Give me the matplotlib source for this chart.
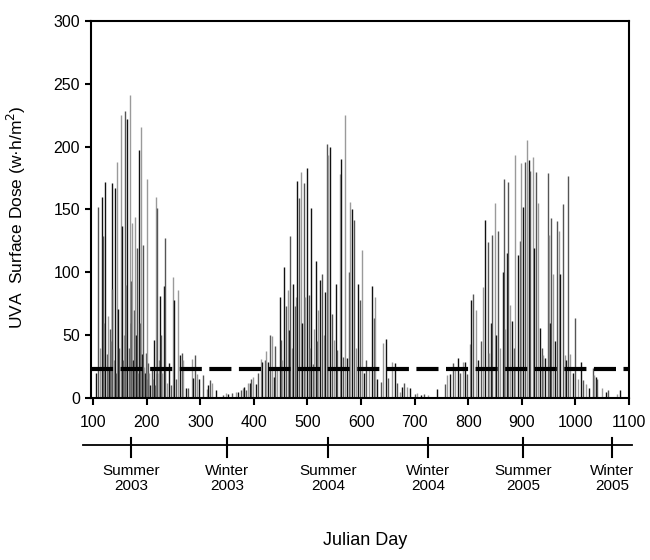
import numpy as np
from matplotlib import pyplot as plt
import matplotlib.transforms as mtransforms

plt.rcParams['font.family'] = ['Liberation Sans', 'DejaVu Sans']

# daily UVA surface dose (julian day, w.h/m2)
days_2003 = [105, 109, 112, 116, 118, 121, 123, 125, 127, 129, 131, 133, 135, 136, 138, 140, 142, 145, 147, 149,
             152, 154, 155, 157, 159, 160, 162, 164, 166, 168, 170, 171, 173, 175, 176, 178, 180, 182, 184, 185,
             187, 189, 191, 193, 195, 197, 199, 200, 202, 203, 205, 207, 209, 211, 213, 215, 217, 219, 220, 222,
             224, 226, 229, 232, 234, 238, 242, 245, 249, 250, 254, 259, 263, 265, 268, 273, 277, 284, 287, 291,
             294, 298, 305, 312, 315, 319, 322, 330, 342, 348, 352]
dose_2003 = [20, 152, 40, 160, 129, 60, 172, 35, 65, 25, 55, 45, 171, 87, 30, 167, 20, 188, 71, 40,
             225, 137, 30, 50, 25, 228, 90, 222, 40, 241, 60, 93, 139, 30, 70, 144, 50, 119, 20, 197,
             60, 216, 35, 122, 25, 20, 36, 174, 15, 28, 20, 10, 25, 15, 46, 10, 160, 20, 151, 30,
             81, 50, 20, 89, 127, 12, 28, 10, 96, 78, 15, 86, 34, 36, 30, 8, 8, 31, 16, 34,
             19, 15, 18, 7, 10, 14, 12, 6, 2, 4, 3]

days_2004 = [360, 367, 370, 376, 379, 382, 385, 389, 392, 395, 399, 403, 408, 413, 416, 420, 422, 426, 430, 433,
             437, 440, 444, 448, 451, 453, 456, 459, 463, 465, 468, 471, 473, 476, 478, 481, 485, 487, 490, 493,
             496, 500, 503, 505, 507, 510, 512, 515, 518, 520, 523, 527, 530, 533, 536, 539, 542, 545, 549, 553,
             556, 560, 563, 567, 570, 573, 577, 580, 583, 586, 590, 594, 598, 601, 606, 610, 615, 620, 624, 626,
             630, 637, 640, 647, 650, 657, 664, 667, 672, 677, 680, 685, 692, 700, 705, 712, 718, 725]
dose_2004 = [4, 5, 5, 6, 8, 9, 6, 12, 12, 15, 17, 11, 20, 31, 29, 30, 37, 29, 50, 49,
             17, 41, 25, 80, 46, 30, 104, 73, 86, 54, 129, 40, 91, 73, 80, 173, 159, 180, 60, 171,
             80, 183, 82, 40, 151, 27, 55, 109, 45, 70, 94, 99, 50, 84, 202, 193, 200, 67, 46, 91,
             38, 178, 190, 33, 225, 32, 100, 156, 150, 142, 40, 91, 78, 118, 20, 30, 25, 89, 64, 80,
             15, 13, 44, 47, 16, 29, 28, 12, 5, 9, 12, 9, 8, 3, 4, 2, 3, 2]

days_2005 = [741, 756, 760, 766, 772, 775, 780, 784, 790, 794, 798, 804, 806, 809, 815, 819, 823, 828, 832, 836,
             839, 842, 845, 849, 852, 856, 860, 864, 866, 869, 872, 874, 878, 882, 885, 888, 892, 897, 899, 902,
             906, 909, 913, 916, 920, 923, 927, 930, 934, 937, 940, 943, 948, 950, 953, 955, 959, 962, 965, 969,
             972, 976, 980, 983, 987, 990, 995, 1000, 1005, 1011, 1015, 1020, 1025, 1032, 1035, 1038, 1041, 1049,
             1057, 1061, 1077, 1083]
dose_2005 = [7, 11, 18, 19, 28, 22, 32, 20, 29, 29, 19, 43, 78, 83, 70, 30, 45, 88, 142, 124,
             36, 60, 130, 155, 50, 133, 40, 100, 174, 55, 115, 172, 74, 61, 40, 193, 114, 125, 187, 152,
             188, 205, 189, 181, 192, 119, 180, 155, 56, 40, 34, 32, 179, 130, 60, 143, 99, 45, 141, 133,
             99, 154, 34, 30, 177, 35, 20, 64, 15, 29, 14, 11, 8, 24, 18, 17, 15, 8,
             5, 6, 3, 6]

threshold = 23

season_days = [171, 350, 538, 725, 902, 1068]
season_labels = ["Summer\n2003", "Winter\n2003", "Summer\n2004", "Winter\n2004", "Summer\n2005", "Winter\n2005"]

days = np.array(days_2003 + days_2004 + days_2005)
dose = np.array(dose_2003 + dose_2004 + dose_2005)

fig = plt.figure(figsize=(6.5, 5.6), dpi=100)
ax = fig.add_axes([0.14, 0.2893, 0.8277, 0.6732])

shades = ['#111111', '#555555', '#9a9a9a']
colors = [shades[i % 3] for i in range(len(days))]
ax.vlines(days, 0, dose, colors=colors, linewidth=1.0)

ax.axhline(threshold, color='black', linewidth=3, dashes=(5.3, 1.8))

ax.set_xlim(96, 1100)
ax.set_ylim(0, 300)
ax.set_xticks(np.arange(100, 1101, 100))
ax.set_yticks(np.arange(0, 301, 50))
ax.tick_params(axis='both', direction='out', labelsize=11.5, width=1.5)
ax.tick_params(axis='x', length=5, pad=7)
ax.tick_params(axis='y', length=4, pad=4)
for s in ax.spines.values():
    s.set_linewidth(1.5)

ax.set_ylabel("UVA  Surface Dose (w\u00b7h/m$^2$)", fontsize=12.5)
ax.yaxis.set_label_coords(-0.117, 0.48)

# season axis under the day ticks
trans = mtransforms.blended_transform_factory(ax.transData, ax.transAxes)
ax.plot([-0.015, 1.0056], [-0.1247, -0.1247], transform=ax.transAxes,
        color='black', linewidth=1.3, clip_on=False)
for d, lab in zip(season_days, season_labels):
    ax.plot([d, d], [-0.106, -0.157], transform=trans, color='black', linewidth=1.5, clip_on=False)
    ax.text(d, -0.214, lab, transform=trans, ha='center', va='center',
            fontsize=11, linespacing=1.1, clip_on=False)

ax.text(0.51, -0.377, "Julian Day", transform=ax.transAxes, ha='center', va='center', fontsize=13)

plt.savefig("out.png", dpi=100)
